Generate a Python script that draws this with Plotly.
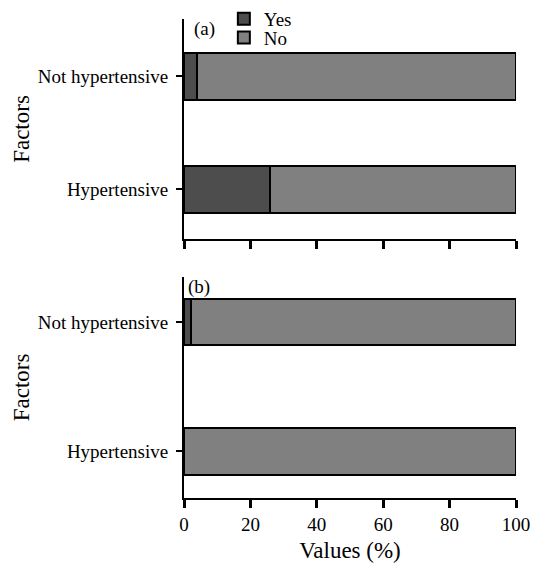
import plotly.graph_objects as go

categories = ["Hypertensive", "Not hypertensive"]
yes_a = [26, 4]
no_a = [74, 96]
yes_b = [0, 2]
no_b = [100, 98]
x_ticks = [0, 20, 40, 60, 80, 100]

FONT = "Liberation Serif, Times New Roman, serif"
YES_C = "#4d4d4d"
NO_C = "#808080"
line = dict(color="black", width=2)

fig = go.Figure()
fig.add_trace(go.Bar(y=categories, x=yes_a, orientation="h", name="Yes",
                     marker=dict(color=YES_C, line=line), width=0.41,
                     xaxis="x", yaxis="y", legend="legend"))
fig.add_trace(go.Bar(y=categories, x=no_a, orientation="h", name="No",
                     marker=dict(color=NO_C, line=line), width=0.41,
                     xaxis="x", yaxis="y", legend="legend2"))
fig.add_trace(go.Bar(y=categories, x=yes_b, orientation="h", name="Yes",
                     marker=dict(color=YES_C, line=line), width=0.36,
                     xaxis="x2", yaxis="y2", showlegend=False))
fig.add_trace(go.Bar(y=categories, x=no_b, orientation="h", name="No",
                     marker=dict(color=NO_C, line=line), width=0.36,
                     xaxis="x2", yaxis="y2", showlegend=False))

xcommon = dict(range=[0, 100], tickvals=x_ticks, showline=True, linecolor="black",
               linewidth=2, ticks="outside", ticklen=8, tickwidth=2.5, tickcolor="black",
               showgrid=False, zeroline=False, domain=[0, 1], fixedrange=True,
               automargin=False)
ycommon = dict(type="category", categoryorder="array", categoryarray=categories,
               showline=True, linecolor="black", linewidth=2, ticks="outside",
               ticklen=6, tickwidth=2, tickcolor="black", showgrid=False,
               zeroline=False, automargin=False, ticklabelstandoff=4, fixedrange=True,
               title=dict(text="Factors", standoff=2))

legend_common = dict(xanchor="left", yanchor="middle", bgcolor="rgba(0,0,0,0)",
                     font=dict(family=FONT, size=19), itemwidth=30,
                     itemclick=False, itemdoubleclick=False)

fig.update_layout(
    width=534, height=567,
    margin=dict(l=184, r=18, t=0, b=69),
    barmode="stack",
    plot_bgcolor="white", paper_bgcolor="white",
    font=dict(family=FONT, size=19, color="black"),
    xaxis=dict(**xcommon, anchor="y", showticklabels=False),
    xaxis2=dict(**xcommon, anchor="y2", title=dict(text="Values (%)", standoff=8)),
    yaxis=dict(**ycommon, domain=[0.5241, 0.9699], range=[-0.44, 1.51], anchor="x"),
    yaxis2=dict(**ycommon, domain=[0, 0.4478], range=[-0.36, 1.35], anchor="x2"),
    legend=dict(**legend_common, x=0.12, y=1 - 15 / 498),
    legend2=dict(**legend_common, x=0.12, y=1 - 34 / 498),
    showlegend=True,
    annotations=[
        dict(text="(a)", xref="paper", yref="paper", x=0.024, y=1 - 25 / 498,
             xanchor="left", yanchor="middle", showarrow=False, font=dict(size=19)),
        dict(text="(b)", xref="paper", yref="paper", x=0.006, y=1 - 285.5 / 498,
             xanchor="left", yanchor="middle", showarrow=False, font=dict(size=19)),
    ],
)

fig.write_html("out.html", config={"displayModeBar": False},
               post_script="document.body.style.margin='0';document.body.style.overflow='hidden';")
